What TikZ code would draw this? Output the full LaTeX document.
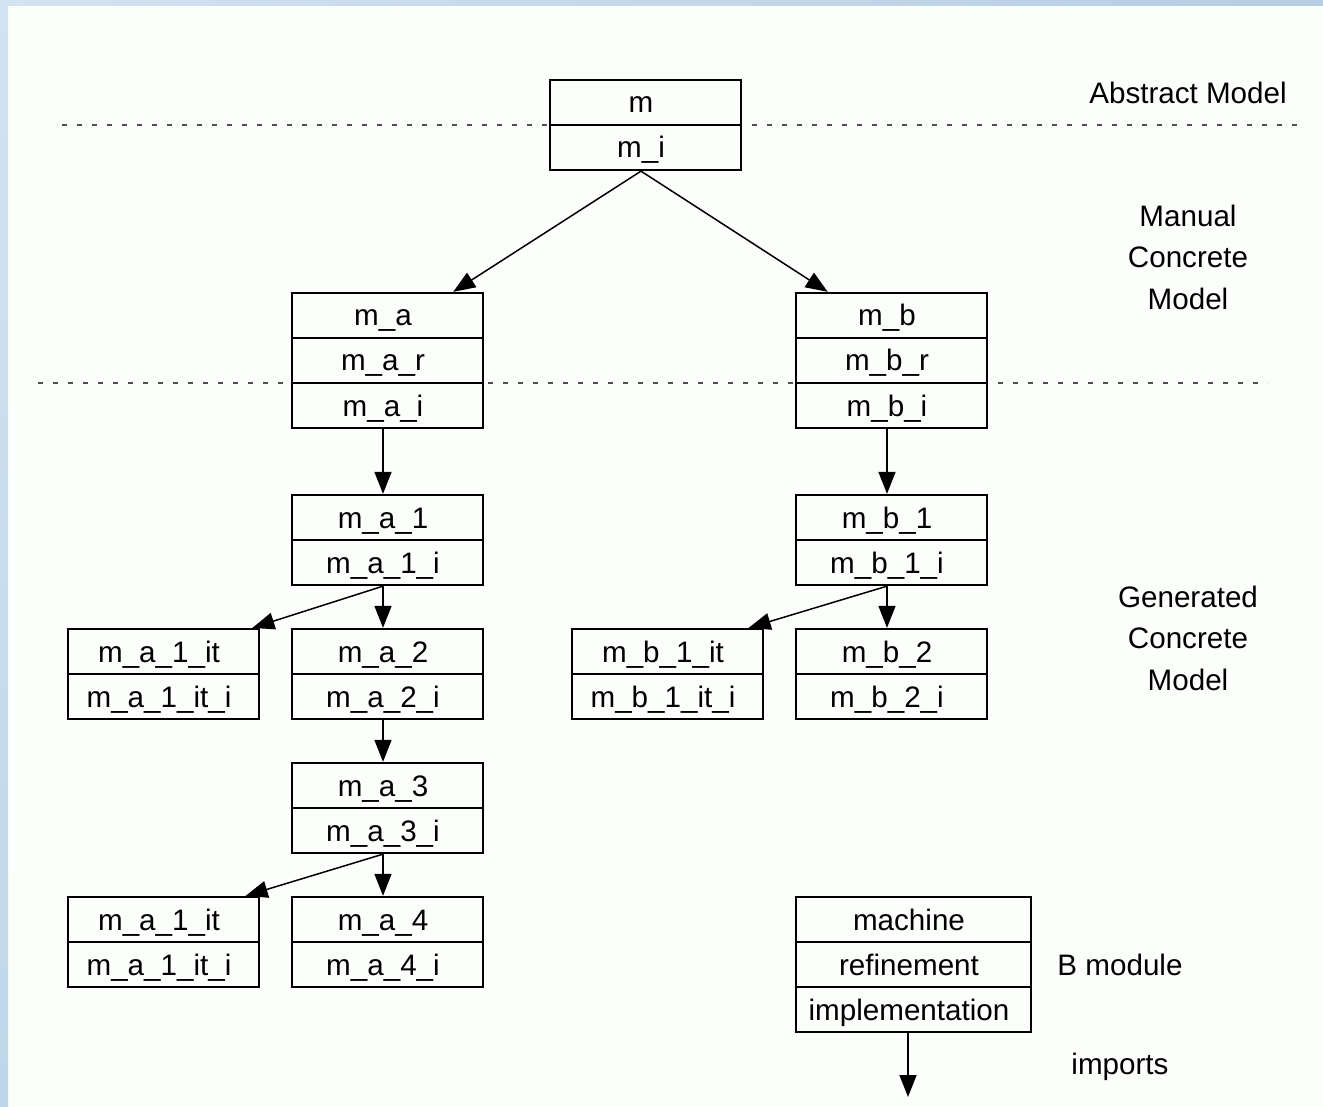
\documentclass[tikz,border=0pt]{standalone}
\usepackage{fontspec}
\setmainfont{Liberation Sans}
\usetikzlibrary{arrows.meta,calc,fit}

\definecolor{paper}{RGB}{252,254,251}
\definecolor{frameA}{RGB}{210,227,241}
\definecolor{frameB}{RGB}{182,205,227}
\definecolor{frameC}{RGB}{190,215,234}
\definecolor{rulegray}{RGB}{80,80,80}

\tikzset{
  txt/.style={font=\fontsize{14.8}{20.75}\selectfont},
  cell/.style={txt, draw=black, fill=paper, line width=0.75pt,
    minimum width=95.5pt, minimum height=22.5pt, inner sep=0pt,
    text height=13.5pt, text depth=3pt,
    execute at begin node={\kern-4.5pt}},
  widecell/.style={cell, minimum width=117.5pt},
  outline/.style={inner sep=0pt, draw=none},
  link/.style={line width=0.75pt, -{Triangle[length=11pt,width=8.5pt]}},
  layerline/.style={draw=rulegray, line width=0.55pt, dash pattern=on 2.5pt off 5pt},
  layerlabel/.style={txt, align=center}
}

% two-row module box: name, centre x, top y, upper text, lower text
\newcommand{\modtwo}[5]{%
  \node[cell] (#1-1) at (#2,#3+22.5) {#4};
  \node[cell] (#1-2) at (#2,#3+67.5) {#5};
  \node[outline, fit=(#1-1)(#1-2)] (#1) {};
}
% three-row module box: [cell style] name, centre x, top y, three texts
\newcommand{\modthree}[7][cell]{%
  \node[#1] (#2-1) at (#3,#4+22.5) {#5};
  \node[#1] (#2-2) at (#3,#4+67.5) {#6};
  \node[#1] (#2-3) at (#3,#4+112.5) {#7};
  \node[outline, fit=(#2-1)(#2-3)] (#2) {};
}
% attachment point a little left of a box's top or bottom centre
\newcommand{\at}[1]{($(#1)+(-4.5,0)$)}

\begin{document}
\begin{tikzpicture}[x=0.5pt, y=-0.5pt]
  \useasboundingbox (0,0) rectangle (1323,1107);
  % page and window frame
  \fill[paper] (0,0) rectangle (1323,1107);
  \shade[top color=frameA, bottom color=frameC] (0,0) rectangle (8,1107);
  \shade[left color=frameA, right color=frameB] (0,0) rectangle (1323,6);

  % layer separators
  \coordinate (d1a) at (62,125);
  \coordinate (d1b) at (1300,125);
  \coordinate (d2a) at (38,383);
  \coordinate (d2b) at (1268,383);
  \draw[layerline] (d1a) -- (d1b);
  \draw[layerline] (d2a) -- (d2b);

  % modules
  \modtwo{m}{645.5}{80}{m}{m\_i}
  \modthree{ma}{387.5}{293}{m\_a}{m\_a\_r}{m\_a\_i}
  \modthree{mb}{891.5}{293}{m\_b}{m\_b\_r}{m\_b\_i}
  \modtwo{maone}{387.5}{495}{m\_a\_1}{m\_a\_1\_i}
  \modtwo{mbone}{891.5}{495}{m\_b\_1}{m\_b\_1\_i}
  \modtwo{mait}{163.5}{629}{m\_a\_1\_it}{m\_a\_1\_it\_i}
  \modtwo{matwo}{387.5}{629}{m\_a\_2}{m\_a\_2\_i}
  \modtwo{mbit}{667.5}{629}{m\_b\_1\_it}{m\_b\_1\_it\_i}
  \modtwo{mbtwo}{891.5}{629}{m\_b\_2}{m\_b\_2\_i}
  \modtwo{mathree}{387.5}{763}{m\_a\_3}{m\_a\_3\_i}
  \modtwo{maitb}{163.5}{897}{m\_a\_1\_it}{m\_a\_1\_it\_i}
  \modtwo{mafour}{387.5}{897}{m\_a\_4}{m\_a\_4\_i}
  \modthree[widecell]{leg}{913.5}{897}{machine}{refinement}{implementation}

  % imports links
  \draw[link] \at{m.south} -- ($(ma.north)!0.68!(ma.north east)$);
  \draw[link] \at{m.south} -- ($(mb.north)!0.66!(mb.north west)$);
  \draw[link] \at{ma.south} -- \at{maone.north};
  \draw[link] \at{mb.south} -- \at{mbone.north};
  \draw[link] \at{maone.south} -- ($(mait.north)!0.92!(mait.north east)$);
  \draw[link] \at{maone.south} -- \at{matwo.north};
  \draw[link] \at{mbone.south} -- ($(mbit.north)!0.84!(mbit.north east)$);
  \draw[link] \at{mbone.south} -- \at{mbtwo.north};
  \draw[link] \at{matwo.south} -- \at{mathree.north};
  \draw[link] \at{mathree.south} -- ($(maitb.north)!0.85!(maitb.north east)$);
  \draw[link] \at{mathree.south} -- \at{mafour.north};
  \coordinate (impend) at (908,1097);
  \draw[link] (leg.south -| impend) -- (impend);

  % layer and legend labels
  \node[layerlabel] (abs) at (1188,93) {Abstract Model};
  \node[layerlabel] (man) at (1188,257) {Manual\\Concrete\\Model};
  \node[layerlabel] (gen) at (1188,638) {Generated\\Concrete\\Model};
  \node[layerlabel] (bmod) at (1120,965) {B module};
  \node[layerlabel] (imp) at (1120,1067) {imports};
\end{tikzpicture}
\end{document}
